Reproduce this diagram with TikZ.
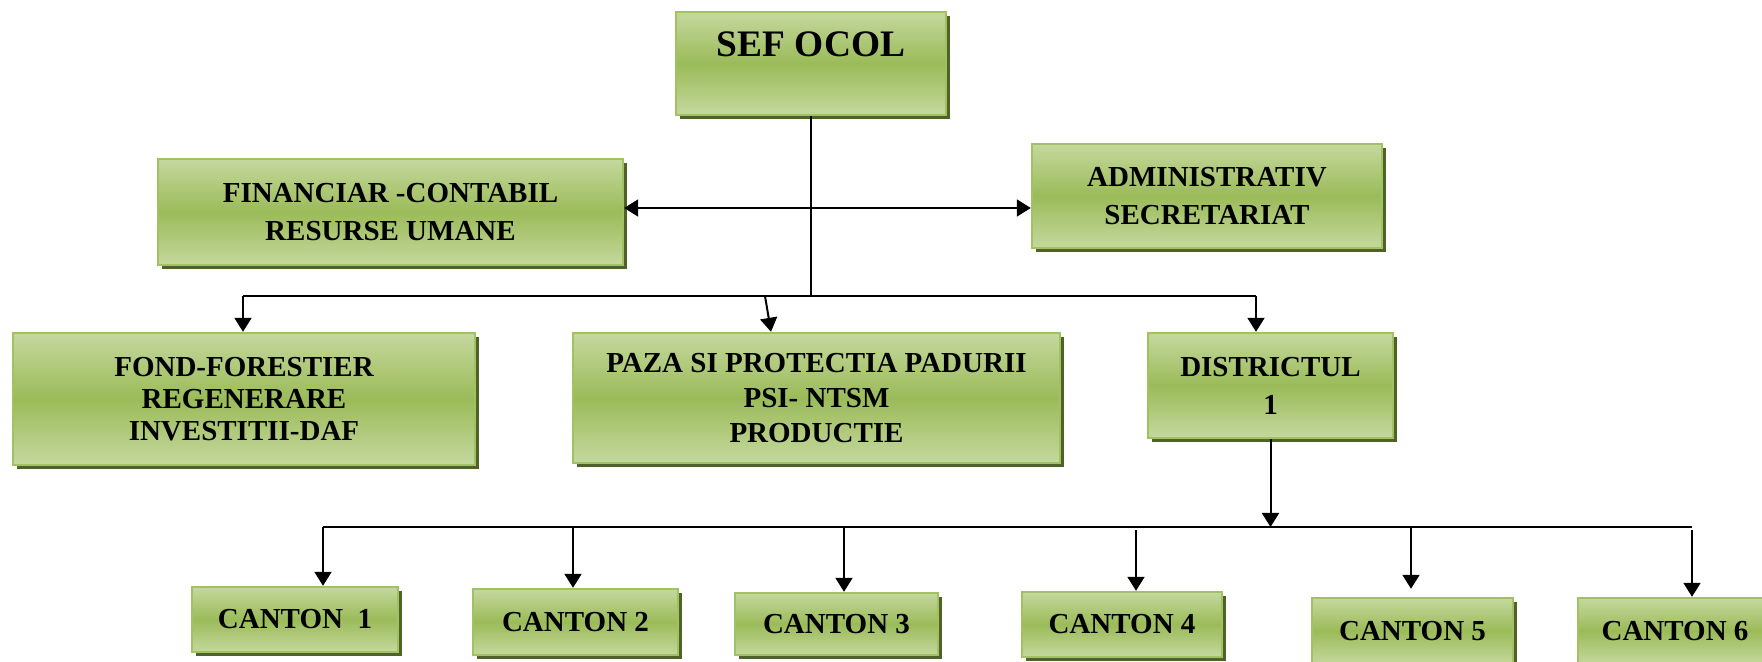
\documentclass[tikz,border=0pt]{standalone}
\usepackage{fontspec}
\setmainfont{Liberation Serif}
\usetikzlibrary{arrows.meta,shadows,calc}
\definecolor{boxlight}{RGB}{197,216,158}
\definecolor{boxmid}{RGB}{155,187,89}
\definecolor{boxline}{RGB}{160,194,98}
\definecolor{boxshadow}{RGB}{79,98,40}
\tikzset{
  box/.style={draw=boxline, line width=1.2pt, top color=boxlight, bottom color=boxlight, middle color=boxmid,
    general shadow={fill=boxshadow, shadow xshift=1.8pt, shadow yshift=-2.2pt},
    inner sep=0pt, align=center, font=\bfseries\fontsize{14.5}{19}\selectfont},
  arr/.style={line width=1pt, -{Triangle[length=7pt,width=8.5pt]}},
  darr/.style={line width=1pt, {Triangle[length=7pt,width=8.5pt]}-{Triangle[length=7pt,width=8.5pt]}},
  busline/.style={line width=1pt},
  thinline/.style={line width=0.6pt},
  boxtext/.style={font=\bfseries\fontsize{18.7}{22}\selectfont, inner sep=0pt}
}
\begin{document}
\begin{tikzpicture}[x=0.5pt,y=-0.5pt]
\useasboundingbox (0,0) rectangle (1762,662);
\clip (0,0) rectangle (1762,662);

% boxes
\node[box, minimum width=135pt, minimum height=51.5pt] (sef) at (811,63.5) {};
\node[boxtext] (seft) at (811,44) {SEF OCOL};
\node[box, minimum width=232.5pt, minimum height=53pt] (fin) at (390.5,212) {FINANCIAR -CONTABIL\\RESURSE UMANE};
\node[box, minimum width=175pt, minimum height=52pt] (adm) at (1207,196) {ADMINISTRATIV\\SECRETARIAT};
\node[box, minimum width=231pt, minimum height=66pt, font=\bfseries\fontsize{14.5}{16}\selectfont] (fond) at (244,399) {FOND-FORESTIER\\REGENERARE\\INVESTITII-DAF};
\node[box, minimum width=243.5pt, minimum height=65pt, font=\bfseries\fontsize{14.5}{17.5}\selectfont] (paza) at (816.5,398) {PAZA SI PROTECTIA PADURII\\PSI- NTSM\\PRODUCTIE};
\node[box, minimum width=122.5pt, minimum height=52.5pt] (dist) at (1270.5,385.5) {DISTRICTUL\\1};
\node[box, minimum width=103pt, minimum height=32.5pt] (c1) at (295,619.5) {CANTON\ \ 1};
\node[box, minimum width=102.5pt, minimum height=33pt] (c2) at (575.5,622) {CANTON 2};
\node[box, minimum width=101.5pt, minimum height=31pt] (c3) at (836.5,624) {CANTON 3};
\node[box, minimum width=100pt, minimum height=32.5pt] (c4) at (1122,624.5) {CANTON 4};
\node[box, minimum width=100.5pt, minimum height=33pt] (c5) at (1412.5,631) {CANTON 5};
\node[box, minimum width=97pt, minimum height=33pt] (c6) at (1675,631) {CANTON 6};

% bus coordinates
\coordinate (dmid) at (811,208);
\coordinate (tL) at (243,296);
\coordinate (tR) at (1256,296);
\coordinate (tP) at (765,296);
\coordinate (bL) at (323,527);
\coordinate (bR) at (1692,527);
\coordinate (k2) at (573,527);
\coordinate (k3) at (844,527);
\coordinate (k4) at (1136,530);
\coordinate (k5) at (1411,527);
\coordinate (k6) at (1692,530);

% top connectors
\draw[thinline] (sef.south) -- (sef.south |- tL);
\draw[darr] (fin.east |- dmid) -- (adm.west |- dmid);
\draw[busline] (tL) -- (tR);
\draw[arr] (tL) -- (tL |- fond.north);
\draw[arr] (tP) -- ($(paza.north)+(-45.5,0)$);
\draw[arr] (tR) -- (tR |- dist.north);

% district to cantons
\draw[arr] (dist.south) -- (dist.south |- bL);
\draw[busline] (bL) -- (bR);
\draw[arr] (bL) -- (bL |- c1.north);
\draw[arr] (k2) -- (k2 |- c2.north);
\draw[arr] (k3) -- (k3 |- c3.north);
\draw[arr] (k4) -- (k4 |- c4.north);
\draw[arr] (k5) -- ($(k5 |- c5.north)+(0,-8)$);
\draw[arr] (k6) -- (k6 |- c6.north);
\end{tikzpicture}
\end{document}
